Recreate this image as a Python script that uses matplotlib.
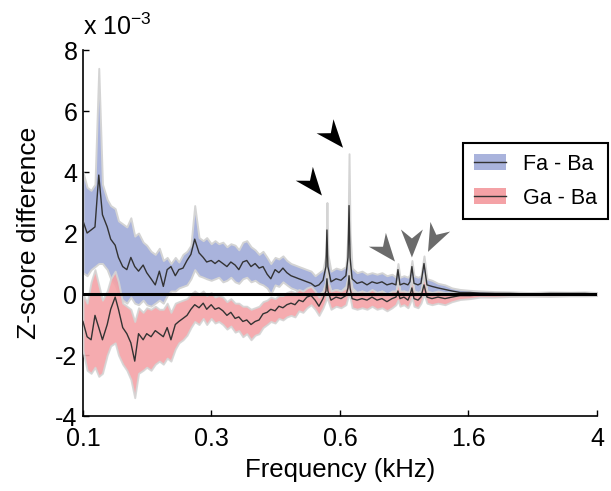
import numpy as np
import matplotlib
matplotlib.use("Agg")
import matplotlib.pyplot as plt
from matplotlib.patches import Patch, Polygon
from matplotlib.lines import Line2D
from matplotlib.transforms import ScaledTranslation, Affine2D
import matplotlib.ticker as mticker

plt.rcParams['font.family'] = ['Liberation Sans', 'DejaVu Sans']
plt.rcParams['mathtext.default'] = 'regular'
plt.rcParams['axes.unicode_minus'] = False

# frequency (kHz)
freq = [0.100, 0.103, 0.106, 0.109, 0.112, 0.115, 0.119, 0.122, 0.126, 0.129,
        0.133, 0.137, 0.141, 0.145, 0.149, 0.154, 0.158, 0.163, 0.168, 0.173,
        0.178, 0.183, 0.188, 0.194, 0.199, 0.205, 0.211, 0.217, 0.223, 0.230,
        0.237, 0.243, 0.251, 0.258, 0.265, 0.273, 0.281, 0.289, 0.298, 0.306,
        0.315, 0.324, 0.334, 0.344, 0.354, 0.364, 0.375, 0.385, 0.397, 0.408,
        0.420, 0.432, 0.445, 0.458, 0.471, 0.485, 0.499, 0.514, 0.529, 0.544,
        0.560, 0.572, 0.576, 0.580, 0.593, 0.615, 0.637, 0.660, 0.670, 0.675,
        0.680, 0.690, 0.715, 0.741, 0.768, 0.796, 0.825, 0.855, 0.886, 0.919,
        0.945, 0.959, 0.973, 1.001, 1.030, 1.045, 1.060, 1.076, 1.107, 1.131,
        1.156, 1.181, 1.224, 1.278, 1.344, 1.413, 1.497, 1.608, 1.728, 1.924,
        2.142, 2.474, 2.855, 3.296, 3.670, 4.000]

# Fa - Ba  (x 1e-3)
fa_mean = [2.4, 2.0, 2.1, 2.2, 3.9, 2.6, 2.2, 1.8, 1.6, 1.2,
           0.9, 0.8, 1.2, 0.9, 0.75, 0.95, 0.7, 0.5, 0.3, 0.75,
           0.25, 0.8, 0.9, 0.6, 0.8, 0.85, 1.1, 1.3, 1.8, 1.35,
           1.2, 1.05, 1.1, 1.0, 1.1, 1.0, 0.9, 1.05, 0.95, 0.8,
           1.05, 1.1, 0.9, 1.0, 0.85, 0.9, 0.65, 0.5, 0.8, 0.7,
           0.85, 0.7, 0.6, 0.55, 0.5, 0.45, 0.4, 0.35, 0.25, 0.3,
           0.45, 0.9, 2.1, 0.9, 0.4, 0.5, 0.45, 0.6, 1.2, 2.9,
           1.2, 0.5, 0.35, 0.4, 0.3, 0.4, 0.35, 0.4, 0.3, 0.35,
           0.3, 0.8, 0.3, 0.35, 0.3, 0.4, 0.9, 0.35, 0.3, 0.35,
           1.0, 0.3, 0.25, 0.2, 0.15, 0.1, 0.05, 0.05, 0.03, 0.02,
           0.02, 0.0, 0.02, 0.02, 0.02, 0.0]
fa_hi = [4.0, 3.5, 3.4, 3.6, 7.4, 3.6, 3.1, 2.9, 2.8, 2.4,
         2.3, 2.2, 2.5, 1.9, 2.0, 1.7, 1.6, 1.4, 1.3, 1.5,
         1.1, 1.2, 1.0, 1.2, 1.05, 1.3, 1.4, 1.6, 2.9, 1.85,
         1.75, 1.85, 1.65, 1.75, 1.65, 1.7, 1.55, 1.65, 1.6, 1.45,
         1.7, 1.75, 1.55, 1.45, 1.3, 1.4, 1.2, 1.0, 1.2, 1.15,
         1.25, 1.1, 1.0, 0.95, 0.9, 0.85, 0.8, 0.75, 0.6, 0.7,
         0.8, 1.3, 3.0, 1.3, 0.75, 0.85, 0.8, 0.9, 2.0, 4.6,
         2.0, 0.85, 0.7, 0.75, 0.65, 0.7, 0.65, 0.7, 0.6, 0.65,
         0.55, 1.0, 0.55, 0.6, 0.55, 0.65, 1.1, 0.6, 0.55, 0.6,
         1.25, 0.5, 0.45, 0.35, 0.3, 0.2, 0.15, 0.12, 0.1, 0.08,
         0.07, 0.05, 0.07, 0.06, 0.07, 0.05]
fa_lo = [0.7, 0.6, 0.8, 0.9, 1.0, 1.0, 0.8, 0.5, 0.3, 0.0,
         -0.2, -0.3, -0.1, -0.3, -0.35, -0.2, -0.35, -0.4, -0.3, -0.2,
         -0.3, -0.05, 0.1, 0.1, 0.2, 0.25, 0.3, 0.5, 0.8, 0.6,
         0.55, 0.5, 0.45, 0.5, 0.55, 0.4, 0.45, 0.55, 0.4, 0.35,
         0.5, 0.55, 0.4, 0.45, 0.35, 0.3, 0.2, 0.0, 0.3, 0.25,
         0.4, 0.3, 0.2, 0.15, 0.1, 0.05, 0.05, 0.0, -0.05, 0.0,
         0.1, 0.4, 1.2, 0.4, 0.1, 0.15, 0.1, 0.25, 0.6, 1.6,
         0.6, 0.2, 0.05, 0.1, 0.0, 0.1, 0.05, 0.1, 0.0, 0.05,
         0.05, 0.5, 0.05, 0.1, 0.05, 0.1, 0.6, 0.1, 0.05, 0.1,
         0.7, 0.05, 0.05, 0.0, 0.0, -0.05, -0.05, -0.05, -0.05, -0.04,
         -0.03, -0.05, -0.03, -0.03, -0.03, -0.05]

# Ga - Ba  (x 1e-3)
ga_mean = [-0.9, -1.4, -1.5, -0.7, -1.1, -1.5, -1.0, -0.5, -0.1, -0.5,
           -1.1, -1.3, -1.6, -2.2, -1.3, -1.5, -1.3, -1.4, -1.2, -1.3,
           -1.4, -1.1, -1.5, -1.0, -0.9, -0.8, -0.7, -0.5, -0.35, -0.45,
           -0.3, -0.5, -0.35, -0.5, -0.45, -0.55, -0.7, -0.6, -0.8, -0.75,
           -0.9, -0.85, -1.0, -0.9, -0.85, -0.65, -0.6, -0.5, -0.55, -0.4,
           -0.45, -0.35, -0.3, -0.35, -0.2, -0.25, -0.1, -0.05, -0.2, -0.4,
           -0.15, 0.1, 0.5, 0.1, -0.2, -0.1, -0.15, -0.05, 0.2, 0.6,
           0.2, -0.15, -0.2, -0.15, -0.2, -0.1, -0.2, -0.15, -0.25, -0.15,
           -0.1, 0.1, -0.15, -0.1, -0.2, -0.05, 0.2, -0.15, -0.2, -0.1,
           0.3, -0.1, -0.15, -0.1, -0.15, -0.1, -0.05, -0.05, -0.03, -0.02,
           -0.02, -0.01, -0.02, -0.01, -0.01, 0.0]
ga_hi = [0.0, -0.3, 0.4, 0.8, 0.3, -0.2, 0.1, 0.5, 0.75, 0.4,
         -0.3, -0.4, -0.5, -0.9, -0.45, -0.6, -0.45, -0.5, -0.4, -0.5,
         -0.5, -0.3, -0.6, -0.3, -0.25, -0.2, -0.15, 0.0, 0.1, 0.0,
         0.1, -0.05, 0.05, -0.1, -0.05, -0.1, -0.25, -0.15, -0.3, -0.3,
         -0.4, -0.4, -0.5, -0.45, -0.4, -0.25, -0.2, -0.1, -0.15, -0.05,
         -0.05, 0.05, 0.1, 0.05, 0.15, 0.1, 0.2, 0.25, 0.1, -0.1,
         0.1, 0.4, 0.8, 0.4, 0.1, 0.15, 0.1, 0.2, 0.5, 0.9,
         0.5, 0.1, 0.05, 0.1, 0.05, 0.15, 0.05, 0.1, 0.0, 0.1,
         0.1, 0.4, 0.1, 0.1, 0.05, 0.15, 0.5, 0.1, 0.05, 0.1,
         0.6, 0.1, 0.05, 0.1, 0.05, 0.05, 0.05, 0.03, 0.03, 0.03,
         0.03, 0.02, 0.04, 0.03, 0.04, 0.02]
ga_lo = [-1.85, -2.5, -2.6, -2.4, -2.7, -2.6, -2.0, -1.7, -1.6, -2.0,
         -2.3, -2.5, -2.8, -3.4, -2.6, -2.5, -2.4, -2.5, -2.3, -2.2,
         -2.3, -2.1, -2.2, -1.8, -1.6, -1.5, -1.35, -1.1, -0.9, -1.0,
         -0.8, -1.0, -0.8, -0.95, -0.9, -1.0, -1.15, -1.05, -1.25, -1.2,
         -1.4, -1.3, -1.5, -1.35, -1.3, -1.1, -1.0, -0.9, -0.95, -0.8,
         -0.85, -0.75, -0.7, -0.75, -0.55, -0.6, -0.45, -0.35, -0.5, -0.7,
         -0.45, -0.2, 0.1, -0.2, -0.5, -0.4, -0.45, -0.35, -0.1, 0.2,
         -0.1, -0.45, -0.5, -0.45, -0.5, -0.4, -0.5, -0.45, -0.55, -0.45,
         -0.35, -0.2, -0.4, -0.35, -0.45, -0.3, -0.1, -0.4, -0.45, -0.3,
         0.0, -0.3, -0.35, -0.3, -0.35, -0.25, -0.18, -0.15, -0.1, -0.1,
         -0.08, -0.07, -0.08, -0.06, -0.06, -0.05]

labels = ['Fa - Ba', 'Ga - Ba']
xtick_pos = [0.1, 0.2515, 0.6325, 1.591, 4.0]
xtick_lab = ['0.1', '0.3', '0.6', '1.6', '4']
yticks = [-4, -2, 0, 2, 4, 6, 8]

# peaks marked with arrowheads
peak_freqs = [0.576, 0.675, 0.959, 1.060, 1.156]

blue = '#a9b3dc'
red = '#f4a2a6'
halo = '#d4d4d4'
dark = '#333333'

fig = plt.figure(figsize=(6.11, 4.91), dpi=100)
ax = fig.add_axes([0.1358, 0.1527, 0.8412, 0.7454])
ax.set_xscale('log')
ax.set_xlim(0.1, 4)
ax.set_ylim(-4, 8)

ax.fill_between(freq, fa_lo, fa_hi, facecolor=blue, edgecolor=halo, linewidth=1.4, zorder=2)
ax.fill_between(freq, ga_lo, ga_hi, facecolor=red, edgecolor=halo, linewidth=1.4, alpha=0.9, zorder=3)
ax.plot(freq, fa_mean, color=dark, lw=1.0, zorder=4)
ax.plot(freq, ga_mean, color=dark, lw=1.0, zorder=4)
ax.axhline(0, color='k', lw=2.2, zorder=5)

# arrowheads (pixel offsets from the top of each peak)
arrow_style = [(-5, 7, -51, 'k'), (-6, 6, -50, 'k'),
               (-3, 2, -51, '#6b6b6b'), (0, 3, -90, '#6b6b6b'), (4, 4, -116, '#6b6b6b')]
L, W, N = 28, 11, 9
head = np.array([[0, 0], [-L, W], [-L + N, 0], [-L, -W]], dtype=float)
for pf, (dx, dy, ang, col) in zip(peak_freqs, arrow_style):
    i = freq.index(pf)
    verts = Affine2D().rotate_deg(ang).translate(dx, dy).scale(1 / fig.dpi).transform(head)
    tr = fig.dpi_scale_trans + ScaledTranslation(freq[i], fa_hi[i], ax.transData)
    ax.add_patch(Polygon(verts, closed=True, transform=tr, facecolor=col,
                         edgecolor='none', zorder=6, clip_on=False))

ax.set_xlim(0.1, 4)
ax.set_ylim(-4, 8)
ax.xaxis.set_major_locator(mticker.FixedLocator(xtick_pos))
ax.xaxis.set_major_formatter(mticker.FixedFormatter(xtick_lab))
ax.xaxis.set_minor_locator(mticker.NullLocator())
ax.set_yticks(yticks)
ax.set_yticklabels([str(v) for v in yticks])

for s in ['top', 'right']:
    ax.spines[s].set_visible(False)
for s in ['left', 'bottom']:
    ax.spines[s].set_linewidth(1.2)
ax.tick_params(direction='in', length=4, width=1, labelsize=18)
ax.tick_params(axis='x', pad=8)
ax.tick_params(axis='y', pad=4)

ax.set_xlabel('Frequency (kHz)', fontsize=18.5, labelpad=5)
ax.set_ylabel('Z-score difference', fontsize=19, labelpad=10)
ax.text(0.0, 1.04, r'x 10$^{-3}$', transform=ax.transAxes, fontsize=18,
        ha='left', va='baseline')

handles = [(Patch(facecolor=blue, edgecolor='none'), Line2D([], [], color=dark, lw=1)),
           (Patch(facecolor=red, edgecolor='none'), Line2D([], [], color=dark, lw=1))]
leg = ax.legend(handles, labels, loc='upper left', bbox_to_anchor=(0.739, 0.746),
                borderaxespad=0, fontsize=15.5, handlelength=1.5, handleheight=0.75,
                handletextpad=0.8, labelspacing=0.6, borderpad=0.5,
                fancybox=False, framealpha=1, edgecolor='k')
leg.get_frame().set_linewidth(1.5)

fig.savefig('out.png', dpi=100)
